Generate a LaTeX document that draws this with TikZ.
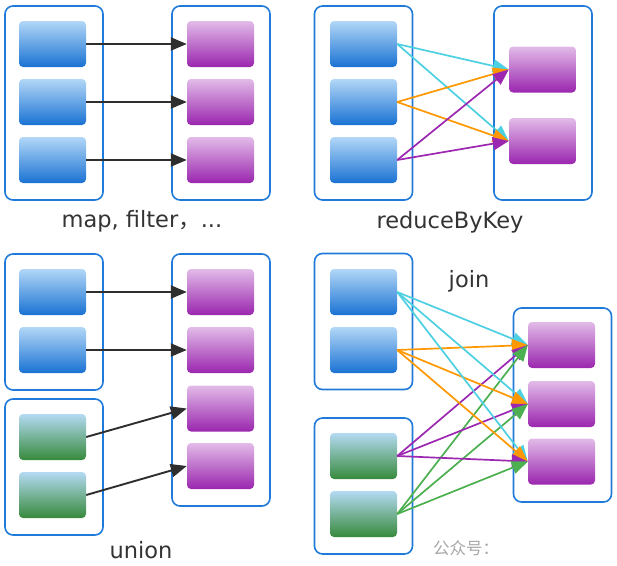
\documentclass[tikz,border=0pt]{standalone}
\usepackage{fontspec}
\setmainfont{DejaVu Sans}
\newfontfamily\cjk{Noto Sans CJK SC}
\usetikzlibrary{arrows.meta}
\definecolor{contc}{HTML}{1F7AD9}
\definecolor{bluetop}{HTML}{B2D7F7}
\definecolor{bluebot}{HTML}{1A72D3}
\definecolor{purtop}{HTML}{E2BBE8}
\definecolor{purbot}{HTML}{9A26AE}
\definecolor{grntop}{HTML}{B4DAF3}
\definecolor{grnbot}{HTML}{378A3C}
\definecolor{txtc}{HTML}{333333}
\definecolor{arrc}{HTML}{2E2E2E}
\definecolor{cyanc}{HTML}{4DD0E1}
\definecolor{orangec}{HTML}{FF9800}
\definecolor{purc}{HTML}{9C27B0}
\definecolor{greenc}{HTML}{4CAF50}
\tikzset{
  cont/.style={draw=contc, line width=1.6pt, rounded corners=8pt, minimum width=98pt, inner sep=0pt},
  cell/.style={rounded corners=4pt, minimum width=67pt, minimum height=46pt, inner sep=0pt},
  bcell/.style={cell, top color=bluetop, bottom color=bluebot},
  pcell/.style={cell, top color=purtop, bottom color=purbot},
  gcell/.style={cell, top color=grntop, bottom color=grnbot},
  arr/.style={line width=1.7pt, -{Triangle[length=16pt,width=13pt]}},
  karr/.style={arr, line width=1.9pt, draw=arrc, fill=arrc},
  carr/.style={arr, draw=cyanc, fill=cyanc},
  oarr/.style={arr, draw=orangec, fill=orangec},
  parr/.style={arr, draw=purc, fill=purc},
  garr/.style={arr, draw=greenc, fill=greenc},
  lbl/.style={text=txtc, font=\fontsize{22.5pt}{26pt}\selectfont, inner sep=0pt, anchor=base},
}
\begin{document}
\begin{tikzpicture}[x=1pt,y=-1pt]
\useasboundingbox (0,0) rectangle (617,565);
% ---------- map, filter ----------
\node[cont, minimum height=194pt] (A) at (54,103) {};
\node[cont, minimum height=194pt] (B) at (221,103) {};
\node[bcell] (a1) at (52.5,44) {};
\node[bcell] (a2) at (52.5,102) {};
\node[bcell] (a3) at (52.5,160) {};
\node[pcell] (b1) at (220.5,44) {};
\node[pcell] (b2) at (220.5,102) {};
\node[pcell] (b3) at (220.5,160) {};
\draw[karr] (a1.east) -- (b1.west);
\draw[karr] (a2.east) -- (b2.west);
\draw[karr] (a3.east) -- (b3.west);
\node[lbl] (lmap) at (142,227.5) {map, filter{\cjk ，}...};
% ---------- reduceByKey ----------
\node[cont, minimum height=194pt] (C) at (363.5,103) {};
\node[cont, minimum height=194pt] (D) at (543,103) {};
\node[bcell] (c1) at (363.5,44) {};
\node[bcell] (c2) at (363.5,102) {};
\node[bcell] (c3) at (363.5,160) {};
\node[pcell] (d1) at (542.5,69.5) {};
\node[pcell] (d2) at (542.5,141) {};
\draw[carr] (c1.east) -- (d1.west);
\draw[carr] (c1.east) -- (d2.west);
\draw[oarr] (c2.east) -- (d1.west);
\draw[oarr] (c2.east) -- (d2.west);
\draw[parr] (c3.east) -- (d1.west);
\draw[parr] (c3.east) -- (d2.west);
\node[lbl] (lred) at (450,228.3) {reduceByKey};
% ---------- union ----------
\node[cont, minimum height=136pt] (E) at (54,322) {};
\node[cont, minimum height=136pt] (F) at (54,467) {};
\node[cont, minimum height=252pt] (G) at (221,380) {};
\node[bcell] (e1) at (52.5,292) {};
\node[bcell] (e2) at (52.5,350) {};
\node[gcell] (f1) at (52.5,437) {};
\node[gcell] (f2) at (52.5,495) {};
\node[pcell] (g1) at (220.5,292) {};
\node[pcell] (g2) at (220.5,350) {};
\node[pcell] (g3) at (220.5,408.5) {};
\node[pcell] (g4) at (220.5,466) {};
\draw[karr] (e1.east) -- (g1.west);
\draw[karr] (e2.east) -- (g2.west);
\draw[karr] (f1.east) -- (g3.west);
\draw[karr] (f2.east) -- (g4.west);
\node[lbl] (luni) at (141,558.5) {union};
% ---------- join ----------
\node[cont, minimum height=136pt] (H) at (363.5,321.5) {};
\node[cont, minimum height=136pt] (I) at (363.5,486) {};
\node[cont, minimum height=194pt] (J) at (562.5,405) {};
\node[bcell] (h1) at (363.5,292) {};
\node[bcell] (h2) at (363.5,350) {};
\node[gcell] (i1) at (363.5,456) {};
\node[gcell] (i2) at (363.5,514) {};
\node[pcell] (j1) at (561.5,345) {};
\node[pcell] (j2) at (561.5,404) {};
\node[pcell] (j3) at (561.5,461.5) {};
\foreach \t in {j1,j2,j3}{
  \draw[carr] (h1.east) -- (\t.west);
  \draw[oarr] (h2.east) -- (\t.west);
  \draw[parr] (i1.east) -- (\t.west);
  \draw[garr] (i2.east) -- (\t.west);
}
\node[lbl] (ljoin) at (469,287) {join};
% ---------- watermark ----------
\node[text=black!35, font=\cjk\fontsize{16.5pt}{18pt}\selectfont, inner sep=0pt, anchor=west] (wm) at (433,548) {公众号：};
\end{tikzpicture}
\end{document}
